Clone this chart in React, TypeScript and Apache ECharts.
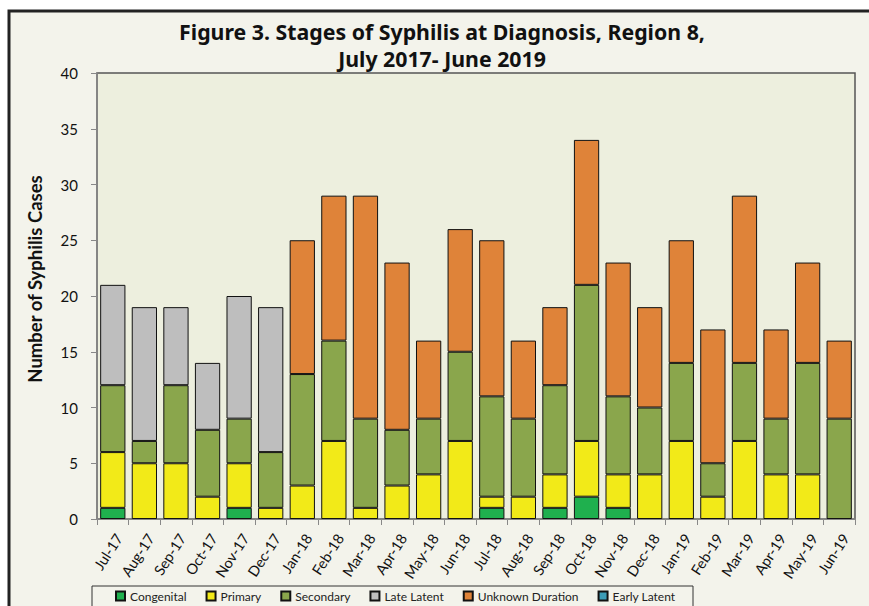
import React, { useEffect, useRef } from "react";
import * as echarts from "echarts";

const months = ["Jul-17","Aug-17","Sep-17","Oct-17","Nov-17","Dec-17","Jan-18","Feb-18","Mar-18","Apr-18","May-18","Jun-18","Jul-18","Aug-18","Sep-18","Oct-18","Nov-18","Dec-18","Jan-19","Feb-19","Mar-19","Apr-19","May-19","Jun-19"];
const congenital = [1,0,0,0,1,0,0,0,0,0,0,0,1,0,1,2,1,0,0,0,0,0,0,0];
const primary = [5,5,5,2,4,1,3,7,1,3,4,7,1,2,3,5,3,4,7,2,7,4,4,0];
const secondary = [6,2,7,6,4,5,10,9,8,5,5,8,9,7,8,14,7,6,7,3,7,5,10,9];
const lateLatent = [9,12,7,6,11,13,0,0,0,0,0,0,0,0,0,0,0,0,0,0,0,0,0,0];
const unknownDuration = [0,0,0,0,0,0,12,13,20,15,7,11,14,7,7,13,12,9,11,12,15,8,9,7];
const earlyLatent = [0,0,0,0,0,0,0,0,0,0,0,0,0,0,0,0,0,0,0,0,0,0,0,0];
const yTicks = { min: 0, max: 40, interval: 5 };

const FONT = "Lato, 'Noto Sans', sans-serif";

export default function App() {
  const ref = useRef<HTMLDivElement>(null);
  useEffect(() => {
    if (!ref.current) return;
    const chart = echarts.init(ref.current, undefined, { renderer: "svg" });
    const mk = (name: string, data: number[], color: string) => ({
      name,
      type: "bar",
      stack: "total",
      data: data.map((v) => (v === 0 ? null : v)),
      barCategoryGap: "20%",
      itemStyle: { color, borderColor: "#111", borderWidth: 1 },
    });
    chart.setOption({
      animation: false,
      backgroundColor: "#ffffff",
      textStyle: { fontFamily: FONT },
      title: {
        text: "Figure 3. Stages of Syphilis at Diagnosis, Region 8,\nJuly 2017- June 2019",
        left: 437,
        top: 13,
        textAlign: "center",
        textStyle: {
          fontFamily: "'Noto Sans', sans-serif",
          fontWeight: "bold",
          fontSize: 21.3,
          lineHeight: 27,
          color: "#111",
        },
      },
      graphic: [
        {
          type: "rect",
          z: -10,
          silent: true,
          shape: { x: 9, y: 11, width: 880, height: 620 },
          style: { fill: "#F3F3EB", stroke: "#222", lineWidth: 3 },
        },
        {
          type: "rect",
          silent: true,
          shape: { x: 92, y: 586, width: 601, height: 40 },
          style: { fill: "#F3F3EB", stroke: "#333", lineWidth: 1 },
        },
        {
          type: "text",
          x: 35,
          y: 279,
          rotation: Math.PI / 2,
          style: {
            text: "Number of Syphilis Cases",
            fontFamily: FONT,
            fontWeight: "bold",
            fontSize: 18.5,
            fill: "#111",
            align: "center",
            verticalAlign: "middle",
          },
        },
      ],
      grid: {
        left: 97,
        top: 73,
        width: 758,
        height: 446,
        show: true,
        backgroundColor: "#EDEFDE",
        borderColor: "#555",
        borderWidth: 1.5,
      },
      legend: {
        left: 110,
        top: 585,
        itemWidth: 9,
        itemHeight: 9,
        itemGap: 19,
        icon: "rect",
        textStyle: { fontFamily: FONT, fontSize: 12, color: "#222" },
        data: ["Congenital", "Primary", "Secondary", "Late Latent", "Unknown Duration", "Early Latent"],
      },
      xAxis: {
        type: "category",
        data: months,
        axisLine: { lineStyle: { color: "#888", width: 1.5 } },
        axisTick: { show: true, length: 6, lineStyle: { color: "#888" } },
        axisLabel: {
          rotate: 57,
          fontSize: 14.5,
          color: "#111",
          margin: 12,
          verticalAlign: "top",
          fontFamily: FONT,
          interval: 0,
        },
      },
      yAxis: {
        type: "value",
        min: yTicks.min,
        max: yTicks.max,
        interval: yTicks.interval,
        axisLine: { show: true, lineStyle: { color: "#888", width: 1.5 } },
        axisTick: { show: true, length: 6, lineStyle: { color: "#888" } },
        axisLabel: { fontSize: 15, color: "#111", margin: 19, fontFamily: FONT },
        splitLine: { show: false },
      },
      series: [
        mk("Congenital", congenital, "#1FB04E"),
        mk("Primary", primary, "#F2EA18"),
        mk("Secondary", secondary, "#8AA64C"),
        mk("Late Latent", lateLatent, "#BEBEBE"),
        mk("Unknown Duration", unknownDuration, "#DF8339"),
        mk("Early Latent", earlyLatent, "#3C9CB6"),
      ],
    });
    return () => chart.dispose();
  }, []);
  return (
    <div
      ref={ref}
      style={{ position: "absolute", left: 0, top: 0, width: 869, height: 606 }}
    />
  );
}
